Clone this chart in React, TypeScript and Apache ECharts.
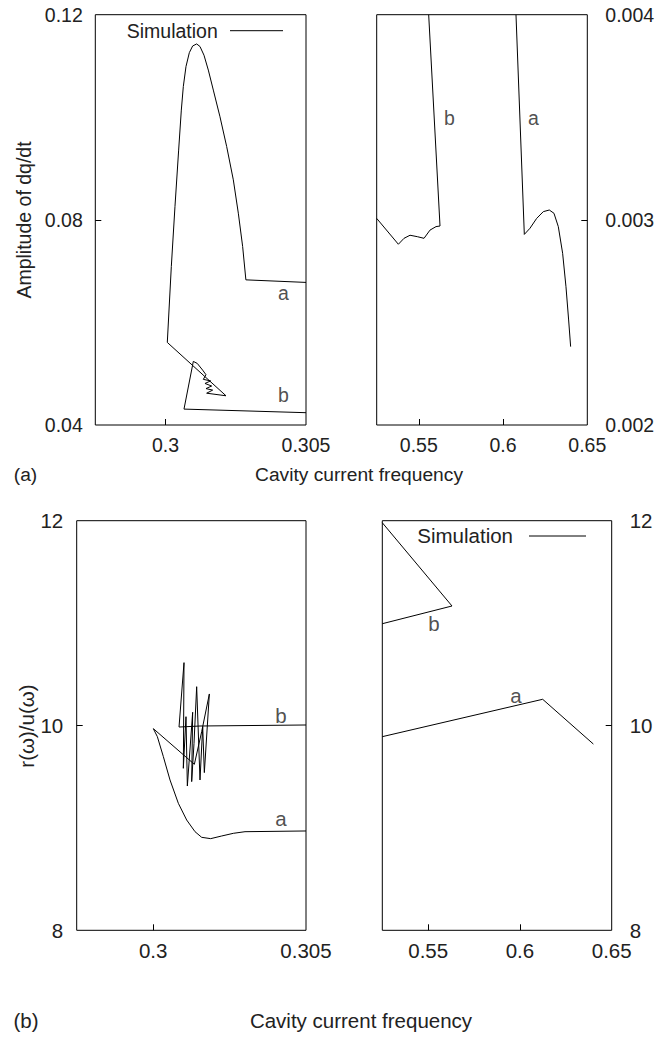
import React, { useEffect, useRef } from "react";
import * as echarts from "echarts";

const FONT = '"Liberation Sans", Arial, Helvetica, sans-serif';
const TEXT = "#222";

// ---- top (a) panels ----
const topLeftA: number[][] = [
  [0.305, 0.0678], [0.30286, 0.0683], [0.302745, 0.0748], [0.302591, 0.0813],
  [0.302413, 0.0878], [0.302176, 0.0943], [0.301938, 0.1001], [0.301701, 0.1053],
  [0.301523, 0.1092], [0.301369, 0.1121], [0.301226, 0.1138], [0.301108, 0.1143],
  [0.300965, 0.1139], [0.300847, 0.1126], [0.300728, 0.1099], [0.300633, 0.106],
  [0.300562, 0.1014], [0.300467, 0.0936], [0.300336, 0.0826], [0.300206, 0.0709],
  [0.300063, 0.0561], [0.302152, 0.0457],
];
const topLeftB: number[][] = [
  [0.305, 0.0424], [0.300657, 0.0431], [0.300989, 0.0524], [0.301131, 0.052],
  [0.301321, 0.0507], [0.30144, 0.0498], [0.301345, 0.0489], [0.301606, 0.0486],
  [0.301404, 0.0481], [0.301642, 0.0476], [0.30144, 0.0471], [0.301677, 0.0468],
  [0.301464, 0.0462], [0.302152, 0.0457],
];
const topRightB: number[][] = [
  [0.525, 0.003007], [0.537856, 0.002881], [0.541218, 0.00291], [0.544778, 0.002925],
  [0.549129, 0.002918], [0.553085, 0.00291], [0.556645, 0.00295], [0.560205, 0.002967],
  [0.562578, 0.00297], [0.555854, 0.004],
];
const topRightA: number[][] = [
  [0.607672, 0.004], [0.612617, 0.002929], [0.61598, 0.002959], [0.619934, 0.003007],
  [0.62389, 0.00304], [0.62745, 0.003048], [0.63022, 0.003032], [0.63279, 0.002967],
  [0.63536, 0.002837], [0.63734, 0.002674], [0.63892, 0.002512], [0.64011, 0.002382],
];

// ---- bottom (b) panels ----
const bottomLeftA: number[][] = [
  [0.305, 8.97], [0.303005, 8.963], [0.302624, 8.947], [0.302242, 8.921],
  [0.301882, 8.895], [0.301588, 8.908], [0.30137, 8.963], [0.301097, 9.077],
  [0.300825, 9.24], [0.300552, 9.468], [0.300334, 9.696], [0.300138, 9.891],
  [0.300007, 9.969], [0.301348, 9.621],
];
const bottomLeftB: number[][] = [
  [0.305, 10.005], [0.301533, 9.995], [0.300847, 9.985], [0.30101, 10.614],
  [0.300988, 9.582], [0.301075, 10.086], [0.301119, 9.409], [0.301293, 10.129],
  [0.301261, 9.452], [0.301337, 9.826], [0.301424, 10.379], [0.301533, 9.468],
  [0.301621, 9.989], [0.301675, 9.54], [0.301839, 10.308], [0.301588, 9.94],
  [0.301348, 9.621],
];
const bottomRightB: number[][] = [[0.525, 11.98], [0.562973, 11.167], [0.525, 10.994]];
const bottomRightA: number[][] = [[0.525, 9.891], [0.612393, 10.256], [0.64001, 9.819]];

// curve letter labels [x, y, text]
const topLeftLabels: (number | string)[][] = [[0.304193, 0.06567, "a"], [0.304193, 0.04585, "b"]];
const topRightLabels: (number | string)[][] = [[0.56812, 0.003495, "b"], [0.61796, 0.003495, "a"]];
const bottomLeftLabels: (number | string)[][] = [[0.304182, 10.093, "b"], [0.304182, 9.094, "a"]];
const bottomRightLabels: (number | string)[][] = [[0.553162, 10.998, "b"], [0.597858, 10.291, "a"]];

// ticks
const leftXLabels = [0.3, 0.305];
const leftXTicks = [0.3];
const rightXLabels = [0.55, 0.6, 0.65];
const rightXTicks = [0.55, 0.6];
const topLeftYLabels = [0.04, 0.08, 0.12];
const topRightYLabels = [0.002, 0.003, 0.004];
const topYTicksL = [0.08];
const topYTicksR = [0.003];
const bottomYLabels = [8, 10, 12];
const bottomYTicks = [10];

const X_TITLE = "Cavity current frequency";
const LEGEND = "Simulation";

function xAx(g: number, min: number, max: number, labels: number[], ticks: number[], fs: number, margin: number) {
  return {
    type: "value", gridIndex: g, min, max,
    axisLine: { show: false }, splitLine: { show: false },
    axisTick: { show: true, inside: true, length: 6, lineStyle: { color: "#000", width: 1 }, customValues: ticks },
    axisLabel: { show: true, customValues: labels, fontSize: fs, fontFamily: FONT, color: TEXT, margin, formatter: (v: number) => String(v), showMinLabel: true, showMaxLabel: true },
  };
}
function yAx(g: number, min: number, max: number, labels: number[], ticks: number[], fs: number, margin: number, pos: string) {
  return {
    type: "value", gridIndex: g, min, max, position: pos,
    axisLine: { show: false }, splitLine: { show: false },
    axisTick: { show: true, inside: true, length: 6, lineStyle: { color: "#000", width: 1 }, customValues: ticks },
    axisLabel: { show: true, customValues: labels, fontSize: fs, fontFamily: FONT, color: TEXT, margin, formatter: (v: number) => String(v), showMinLabel: true, showMaxLabel: true },
  };
}
function lineS(g: number, data: number[][]) {
  return {
    type: "line", xAxisIndex: g, yAxisIndex: g, data, showSymbol: false, symbol: "none",
    lineStyle: { color: "#000", width: 1 }, silent: true, clip: true,
  };
}
function labelS(g: number, data: (number | string)[][], fs: number) {
  return {
    type: "scatter", xAxisIndex: g, yAxisIndex: g, symbolSize: 1, silent: true,
    itemStyle: { color: "rgba(0,0,0,0)" },
    data: data.map((d) => ({ value: [d[0], d[1]], name: d[2] as string })),
    label: { show: true, position: "inside", formatter: "{b}", fontSize: fs, fontFamily: FONT, color: TEXT },
  };
}

export default function App() {
  const ref = useRef<HTMLDivElement>(null);
  useEffect(() => {
    if (!ref.current) return;
    const chart = echarts.init(ref.current, undefined, { renderer: "svg" });
    const fsT = 19.5;
    const fsB = 20.5;
    const gridBase = { show: true, borderColor: "#000", borderWidth: 1, containLabel: false };
    chart.setOption({
      animation: false,
      backgroundColor: "#fff",
      grid: [
        { ...gridBase, left: 95.3, top: 14.7, width: 210.7, height: 410.3 },
        { ...gridBase, left: 376.7, top: 14.7, width: 210.6, height: 410.3 },
        { ...gridBase, left: 76.7, top: 520.7, width: 229.3, height: 409.6 },
        { ...gridBase, left: 382.3, top: 520.7, width: 229.4, height: 409.6 },
      ],
      xAxis: [
        xAx(0, 0.2975, 0.305, leftXLabels, leftXTicks, fsT, 10),
        xAx(1, 0.525, 0.65, rightXLabels, rightXTicks, fsT, 10),
        xAx(2, 0.2975, 0.305, leftXLabels, leftXTicks, fsB, 10),
        xAx(3, 0.525, 0.65, rightXLabels, rightXTicks, fsB, 10),
      ],
      yAxis: [
        yAx(0, 0.04, 0.12, topLeftYLabels, topYTicksL, fsT, 12.5, "left"),
        yAx(1, 0.002, 0.004, topRightYLabels, topYTicksR, fsT, 18, "right"),
        yAx(2, 8, 12, bottomYLabels, bottomYTicks, fsB, 13.5, "left"),
        yAx(3, 8, 12, bottomYLabels, bottomYTicks, fsB, 18, "right"),
      ],
      series: [
        lineS(0, topLeftA), lineS(0, topLeftB),
        lineS(1, topRightB), lineS(1, topRightA),
        lineS(2, bottomLeftA), lineS(2, bottomLeftB),
        lineS(3, bottomRightB), lineS(3, bottomRightA),
        labelS(0, topLeftLabels, fsT), labelS(1, topRightLabels, fsT),
        labelS(2, bottomLeftLabels, fsB), labelS(3, bottomRightLabels, fsB),
      ],
      graphic: [
        // legends
        { type: "text", left: 126.7, top: 20.5, style: { text: LEGEND, fontSize: fsT, fontFamily: FONT, fill: TEXT } },
        { type: "line", shape: { x1: 230, y1: 30.7, x2: 283, y2: 30.7 }, style: { stroke: "#000", lineWidth: 1 } },
        { type: "text", left: 417.3, top: 525, style: { text: LEGEND, fontSize: fsB, fontFamily: FONT, fill: TEXT } },
        { type: "line", shape: { x1: 529, y1: 536, x2: 586, y2: 536 }, style: { stroke: "#000", lineWidth: 1 } },
        // y titles
        { type: "text", x: 24.2, y: 220, rotation: Math.PI / 2, style: { text: "Amplitude of dq/dt", fontSize: fsT, fontFamily: FONT, fill: TEXT, align: "center", verticalAlign: "middle" } },
        { type: "text", x: 26, y: 726, rotation: Math.PI / 2, style: { text: "r(ω)/u(ω)", fontSize: fsB, fontFamily: FONT, fill: TEXT, align: "center", verticalAlign: "middle" } },
        // x titles and panel tags
        { type: "text", x: 359, y: 474, style: { text: X_TITLE, fontSize: 19.2, fontFamily: FONT, fill: TEXT, align: "center", verticalAlign: "middle" } },
        { type: "text", x: 25.5, y: 474, style: { text: "(a)", fontSize: 19.2, fontFamily: FONT, fill: TEXT, align: "center", verticalAlign: "middle" } },
        { type: "text", x: 361, y: 1020, style: { text: X_TITLE, fontSize: fsB, fontFamily: FONT, fill: TEXT, align: "center", verticalAlign: "middle" } },
        { type: "text", x: 26, y: 1020, style: { text: "(b)", fontSize: fsB, fontFamily: FONT, fill: TEXT, align: "center", verticalAlign: "middle" } },
      ],
    });
    return () => chart.dispose();
  }, []);
  return <div ref={ref} style={{ position: "absolute", left: 0, top: 0, width: 671, height: 1038 }} />;
}
